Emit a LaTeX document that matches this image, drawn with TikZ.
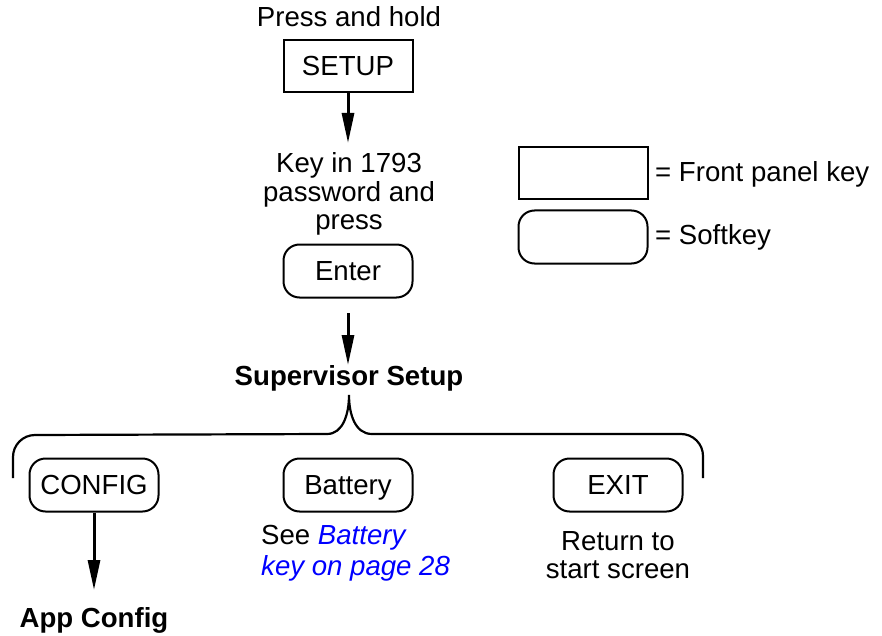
\documentclass[tikz,border=0pt]{standalone}
\usepackage{fontspec}
\setmainfont{Liberation Sans}
\usetikzlibrary{arrows.meta}
\begin{document}
\begin{tikzpicture}[x=1pt,y=-1pt,
  every node/.style={font=\fontsize{27.6}{29}\selectfont, inner sep=0pt},
  frontkey/.style={draw, line width=2pt, minimum width=129pt, minimum height=52pt, text height=20pt, text depth=1pt},
  softkey/.style={draw, line width=2pt, rounded corners=16pt, minimum width=129pt, minimum height=53pt, text height=20pt, text depth=1pt},
  flowarrow/.style={line width=3pt, -{Triangle[length=30pt,width=12pt]}},
  bracket/.style={line width=2.2pt}]
\useasboundingbox (0,0) rectangle (882,636);
\definecolor{linkblue}{RGB}{0,0,255}

\node (press) at (349,17) {Press and hold};
\node[frontkey] (setup) at (348,66) {SETUP};
\coordinate (keyin) at (348,143);
\node[align=center, font=\fontsize{27.6}{28.5}\selectfont] (keytext) at (349,194) {Key in 1793\\password and\\press};
\node[softkey] (enter) at (348,271) {Enter};
\coordinate (a2s) at (348,313);
\coordinate (a2e) at (348,365);
\node[font=\fontsize{27.6}{29}\selectfont\bfseries] (sup) at (349,378) {Supervisor Setup};

\draw[flowarrow] (setup.south) -- (keyin);
\draw[flowarrow] (a2s) -- (a2e);

% bracket
\coordinate (peak) at (349,395);
\draw[bracket] (13,478) -- (13,457) arc[start angle=180, end angle=270, radius=22] -- (327,434)
  .. controls (343,434) and (349,414) .. (peak)
  .. controls (349,414) and (355,434) .. (372,434) -- (681,434)
  arc[start angle=270, end angle=360, radius=22] -- (703,478);

% legend
\node[frontkey] (lgf) at (583,173) {};
\node[anchor=west] (lgft) at (655,174) {= Front panel key};
\node[softkey] (lgs) at (583,237) {};
\node[anchor=west] (lgst) at (655,237) {= Softkey};

% softkeys
\node[softkey] (config) at (94,485) {CONFIG};
\node[softkey] (battery) at (348,485) {Battery};
\node[softkey] (exit) at (618,485) {EXIT};

\coordinate (appin) at (94,590);
\draw[flowarrow] (config.south) -- (appin);
\node[font=\fontsize{27.6}{29}\selectfont\bfseries] (app) at (94,620) {App Config};

\node[anchor=west, align=left, font=\fontsize{27.6}{31}\selectfont] (see) at (261,553) {See \textcolor{linkblue}{\itshape Battery}\\\textcolor{linkblue}{\itshape key on page 28}};
\node[align=center, font=\fontsize{27.6}{28.5}\selectfont] (ret) at (618,555) {Return to\\start screen};
\end{tikzpicture}
\end{document}
